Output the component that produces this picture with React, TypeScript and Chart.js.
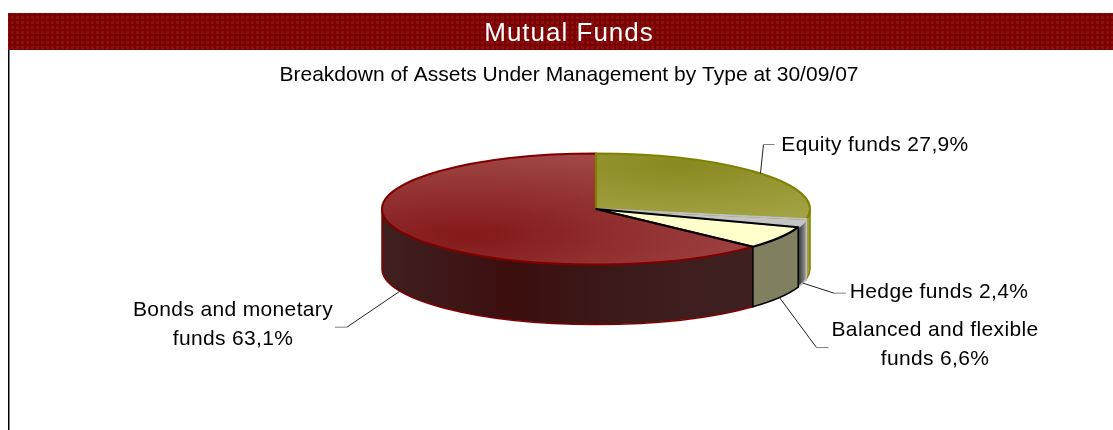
import React, { useEffect, useRef } from "react";
import { Chart, registerables } from "chart.js";

Chart.register(...registerables);

const mainTitle = "Mutual Funds";
const subTitle = "Breakdown of Assets Under Management by Type at 30/09/07";
const categories = ["Equity funds", "Hedge funds", "Balanced and flexible funds", "Bonds and monetary funds"];
const values = [27.9, 2.4, 6.6, 63.1];
const labelLines = [
  ["Equity funds 27,9%"],
  ["Hedge funds 2,4%"],
  ["Balanced and flexible", "funds 6,6%"],
  ["Bonds and monetary", "funds 63,1%"],
];
const edgeColors = ["#808000", "#c0c0c0", "#000000", "#800000"];

const W = 1113, H = 430;
const CX = 596, CY = 209, RX = 214, RY = 55.5, DEPTH = 60;
const SQ = RY / RX;

const leaders = [
  { elbow: [3, -29], run: 11, bottom: false, tx: 875, ty: 145 },
  { elbow: [31, 10], run: 12, bottom: true, tx: 939, ty: 292 },
  { elbow: [37, 50], run: 12, bottom: true, tx: 935, ty: 330 },
  { elbow: [-53, 36], run: -12, bottom: true, tx: 233, ty: 310 },
];

function wallFill(ctx: CanvasRenderingContext2D, i: number) {
  const g = ctx.createLinearGradient(CX - RX, 0, CX + RX, 0);
  if (i === 3) {
    g.addColorStop(0, "#402020");
    g.addColorStop(0.3, "#3c0e0e");
    g.addColorStop(0.55, "#3c1a1a");
    g.addColorStop(1, "#402424");
    return g;
  }
  if (i === 2) return "#808060";
  if (i === 1) {
    const h = ctx.createLinearGradient(CX + RX * 0.945, 0, CX + RX * 0.985, 0);
    h.addColorStop(0, "#303030");
    h.addColorStop(1, "#a8a8a8");
    return h;
  }
  return "#a0a030";
}

function topFill(ctx: CanvasRenderingContext2D, i: number) {
  if (i === 3) {
    const g = ctx.createRadialGradient(470, CY + 26 / SQ, 10, 470, CY + 26 / SQ, 330);
    g.addColorStop(0, "#841a1a");
    g.addColorStop(1, "#a24848");
    return g;
  }
  if (i === 0) {
    const g = ctx.createRadialGradient(680, CY - 45 / SQ, 10, 680, CY - 45 / SQ, 240);
    g.addColorStop(0, "#8a8a22");
    g.addColorStop(1, "#a4a446");
    return g;
  }
  return i === 1 ? "#c4c4c4" : "#ffffcc";
}

const pie3d = {
  id: "pie3d",
  beforeDraw(chart: any) {
    const ctx: CanvasRenderingContext2D = chart.ctx;
    ctx.save();
    ctx.fillStyle = "#fff";
    ctx.fillRect(0, 0, W, H);
    const p = document.createElement("canvas");
    p.width = 5; p.height = 5;
    const q = p.getContext("2d")!;
    q.fillStyle = "#7a0202";
    q.fillRect(0, 0, 5, 5);
    q.fillStyle = "#8a1010";
    q.fillRect(1, 1, 3, 3);
    ctx.fillStyle = ctx.createPattern(p, "repeat")!;
    ctx.fillRect(8, 13, W - 8, 37);
    ctx.fillStyle = "#000";
    ctx.fillRect(8, 50, 1.5, H - 50);
    ctx.textAlign = "center";
    ctx.textBaseline = "middle";
    ctx.fillStyle = "#fff";
    ctx.font = "26px 'Liberation Sans'";
    (ctx as any).letterSpacing = "1px";
    ctx.fillText(mainTitle, 569, 34);
    (ctx as any).letterSpacing = "0px";
    ctx.fillStyle = "#000";
    ctx.font = "21px 'Liberation Sans'";
    ctx.fillText(subTitle, 569, 75);
    ctx.restore();
  },
  beforeDatasetsDraw(chart: any) {
    const ctx: CanvasRenderingContext2D = chart.ctx;
    const arcs = chart.getDatasetMeta(0).data;
    ctx.save();
    [3, 0, 1, 2].forEach((i) => {
      const a = arcs[i];
      const from = Math.max(a.startAngle, 0);
      const to = Math.min(a.endAngle, Math.PI);
      if (to <= from) return;
      ctx.beginPath();
      ctx.ellipse(a.x, a.y, a.outerRadius, a.outerRadius * SQ, 0, from, to);
      ctx.lineTo(a.x + a.outerRadius * Math.cos(to), a.y + a.outerRadius * SQ * Math.sin(to) + DEPTH);
      ctx.ellipse(a.x, a.y + DEPTH, a.outerRadius, a.outerRadius * SQ, 0, to, from, true);
      ctx.closePath();
      ctx.fillStyle = wallFill(ctx, i);
      ctx.fill();
      ctx.lineWidth = 1.5;
      ctx.strokeStyle = edgeColors[i];
      ctx.stroke();
    });
    ctx.restore();
    ctx.save();
    ctx.translate(CX, CY);
    ctx.scale(1, SQ);
    ctx.translate(-CX, -CY);
  },
  afterDatasetsDraw(chart: any) {
    const ctx: CanvasRenderingContext2D = chart.ctx;
    ctx.restore();
    const arcs = chart.getDatasetMeta(0).data;
    ctx.save();
    [3, 0, 1, 2].forEach((i) => {
      const a = arcs[i];
      ctx.beginPath();
      ctx.moveTo(a.x, a.y);
      ctx.ellipse(a.x, a.y, a.outerRadius, a.outerRadius * SQ, 0, a.startAngle, a.endAngle);
      ctx.closePath();
      ctx.lineWidth = 2;
      ctx.lineJoin = "round";
      ctx.strokeStyle = edgeColors[i];
      ctx.stroke();
    });
    ctx.font = "21px 'Liberation Sans'";
    (ctx as any).letterSpacing = "0.35px";
    ctx.textBaseline = "middle";
    arcs.forEach((a: any, i: number) => {
      const l = leaders[i];
      const mid = (a.startAngle + a.endAngle) / 2;
      const sx = a.x + a.outerRadius * Math.cos(mid);
      const sy = a.y + a.outerRadius * SQ * Math.sin(mid) + (l.bottom ? DEPTH : 0);
      const ex = sx + l.elbow[0], ey = sy + l.elbow[1];
      ctx.beginPath();
      ctx.moveTo(sx, sy);
      ctx.lineTo(ex, ey);
      ctx.lineWidth = 1;
      ctx.strokeStyle = "#222";
      ctx.stroke();
      ctx.beginPath();
      ctx.moveTo(ex, ey);
      ctx.lineTo(ex + l.run, ey);
      ctx.strokeStyle = "#808080";
      ctx.stroke();
      ctx.fillStyle = "#000";
      ctx.textAlign = "center";
      labelLines[i].forEach((t, k) => ctx.fillText(t, l.tx, l.ty + k * 29.5));
    });
    ctx.restore();
  },
};

export default function App() {
  const ref = useRef<HTMLCanvasElement>(null);
  useEffect(() => {
    const chart = new Chart(ref.current!, {
      type: "pie",
      data: {
        labels: categories,
        datasets: [{
          data: values,
          backgroundColor: (c: any) => topFill(c.chart.ctx, c.dataIndex),
          borderWidth: 0,
        }],
      },
      options: {
        responsive: false,
        animation: false,
        radius: RX,
        layout: { padding: { left: 2 * CX - W, bottom: H - 2 * CY } },
        plugins: { legend: { display: false }, tooltip: { enabled: false }, title: { display: false } },
      },
      plugins: [pie3d],
    } as any);
    return () => chart.destroy();
  }, []);
  return (
    <div style={{ position: "fixed", left: 0, top: 0, width: W, height: H }}>
      <canvas ref={ref} width={W} height={H} style={{ display: "block" }} />
    </div>
  );
}
